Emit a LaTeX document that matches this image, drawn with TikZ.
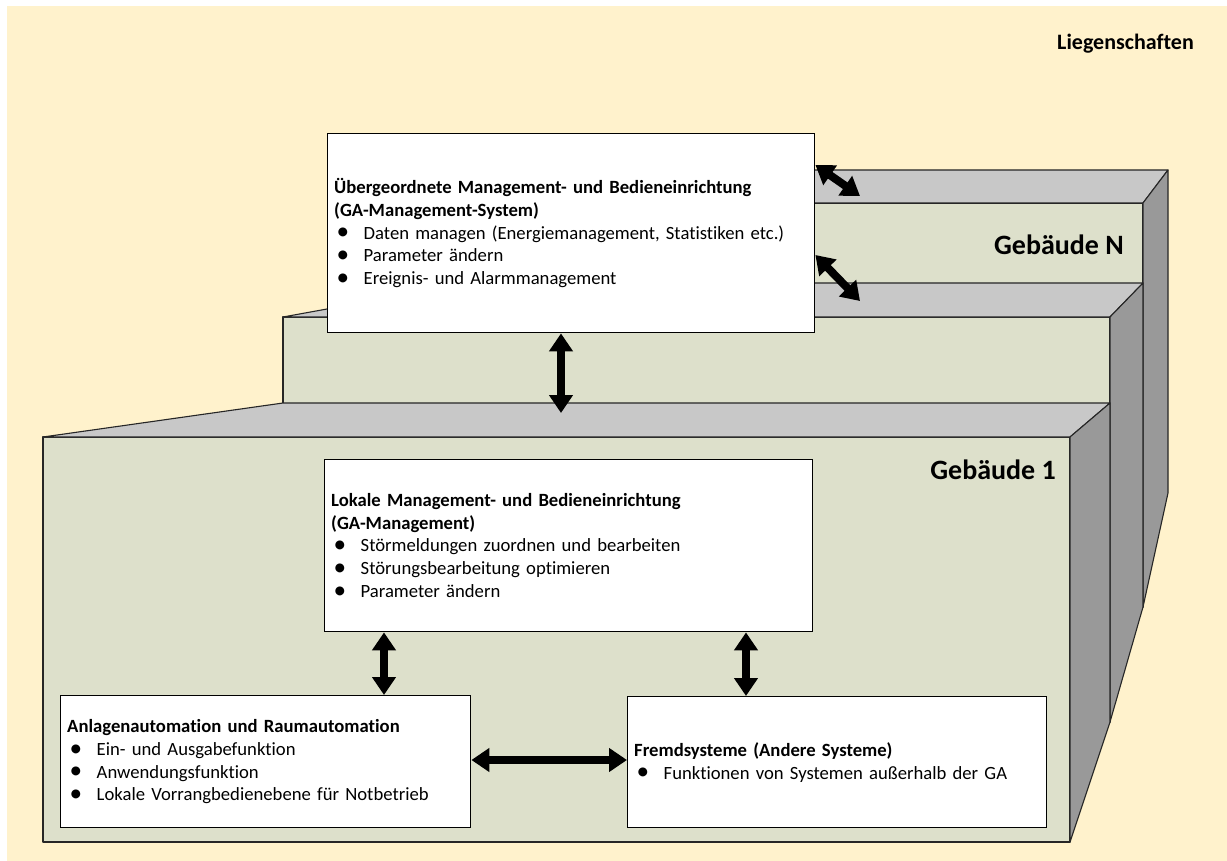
\documentclass[tikz,border=0pt]{standalone}
\usepackage{fontspec}
\setmainfont{Carlito}[Ligatures=NoCommon]
\usetikzlibrary{arrows.meta}

\definecolor{cream}{RGB}{255,242,204}
\definecolor{frontface}{RGB}{221,224,203}
\definecolor{topface}{RGB}{200,200,200}
\definecolor{sideface}{RGB}{153,153,153}

% bullet line: a slightly enlarged dot, then text at a fixed indent
\newcommand{\itm}[1]{\makebox[29.5pt][l]{\hspace{2.5pt}\raisebox{-0.8pt}{\scalebox{1.35}{\textbullet}}}#1}

\begin{document}
\begin{tikzpicture}[x=1pt,y=-1pt,
  wall/.style={draw=black!85,line width=1.1pt,line join=round},
  infobox/.style={draw=black,line width=1.4pt,fill=white,anchor=north west,
    inner xsep=6.5pt,inner ysep=0pt,align=left,
    font=\fontsize{18.67}{22.8}\selectfont},
  dbl/.style={line width=8pt,
    {Triangle[length=18pt,width=23pt]}-{Triangle[length=18pt,width=23pt]}},
  bldtitle/.style={font=\bfseries\fontsize{28}{30}\selectfont,anchor=east,inner sep=0pt}
]
\useasboundingbox (0,0) rectangle (1227,861);
\fill[cream] (7,6) rectangle (1227,861);

\node[font=\bfseries\fontsize{22}{24}\selectfont,anchor=east,inner sep=0pt] (site) at (1194,44) {Liegenschaften};

% building N (back)
\draw[wall,fill=frontface] (480,203) rectangle (1143,607);
\draw[wall,fill=topface] (480,203) -- (620,170) -- (1168,170) -- (1143,203) -- cycle;
\draw[wall,fill=sideface] (1143,203) -- (1168,170) -- (1168,493) -- (1143,607) -- cycle;

% middle building
\draw[wall,fill=frontface] (283,317) rectangle (1110,722);
\draw[wall,fill=topface] (283,317) -- (470,283) -- (1143,283) -- (1110,317) -- cycle;
\draw[wall,fill=sideface] (1110,317) -- (1143,283) -- (1143,607) -- (1110,722) -- cycle;

% building 1 (front)
\draw[wall,fill=frontface] (43,437) rectangle (1070,842);
\draw[wall,fill=topface] (43,437) -- (283,403) -- (1110,403) -- (1070,437) -- cycle;
\draw[wall,fill=sideface] (1070,437) -- (1110,403) -- (1110,722) -- (1070,842) -- cycle;

\node[bldtitle] (bN) at (1124,245) {Gebäude N};
\node[bldtitle] (b1) at (1056,470) {Gebäude 1};

% function boxes
\node[infobox,text width=474pt,minimum height=199pt] (top) at (327,133) {%
  \textbf{Übergeordnete Management- und Bedieneinrichtung}\\
  \textbf{(GA-Management-System)}\\
  \itm{Daten managen (Energiemanagement, Statistiken etc.)}\\
  \itm{Parameter ändern}\\
  \itm{Ereignis- und Alarmmanagement}};

\node[infobox,text width=475pt,minimum height=172pt] (lok) at (324,459) {%
  \textbf{Lokale Management- und Bedieneinrichtung}\\
  \textbf{(GA-Management)}\\
  \itm{Störmeldungen zuordnen und bearbeiten}\\
  \itm{Störungsbearbeitung optimieren}\\
  \itm{Parameter ändern}};

\node[infobox,text width=397pt,minimum height=132pt] (anl) at (60,695) {%
  \textbf{Anlagenautomation und Raumautomation}\\
  \itm{Ein- und Ausgabefunktion}\\
  \itm{Anwendungsfunktion}\\
  \itm{Lokale Vorrangbedienebene für Notbetrieb}};

\node[infobox,text width=406pt,minimum height=131pt] (frm) at (627,696) {%
  \textbf{Fremdsysteme (Andere Systeme)}\\
  \itm{Funktionen von Systemen außerhalb der GA}};

% connector end points
\coordinate (nUp) at (860,196);
\coordinate (nMid) at (860,301);
\coordinate (roof1) at (561,413);
\coordinate (ax) at (384,0);
\coordinate (bx) at (746,0);
\coordinate (hy) at (0,760);

% connectors
\draw[dbl] ([yshift=-32pt]top.north east) -- (nUp);
\draw[dbl] ([yshift=-122pt]top.north east) -- (nMid);
\draw[dbl] (top.south -| roof1) -- (roof1);
\draw[dbl] (lok.south -| ax) -- (anl.north -| ax);
\draw[dbl] (lok.south -| bx) -- (frm.north -| bx);
\draw[dbl] (anl.east |- hy) -- (frm.west |- hy);
\end{tikzpicture}
\end{document}
